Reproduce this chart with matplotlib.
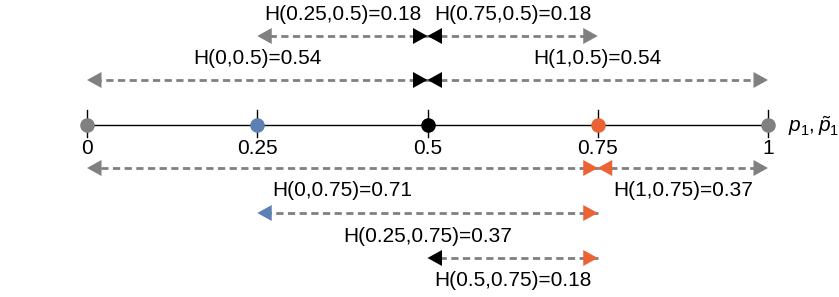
import matplotlib
matplotlib.use("Agg")
import matplotlib.pyplot as plt
from matplotlib.patches import Polygon

plt.rcParams['font.family'] = ['Liberation Sans', 'DejaVu Sans']
plt.rcParams['mathtext.fontset'] = 'custom'
plt.rcParams['mathtext.rm'] = 'Liberation Sans'
plt.rcParams['mathtext.it'] = 'Liberation Sans:italic'

# ---- data ----
points = [0, 0.25, 0.5, 0.75, 1]
point_labels = ["0", "0.25", "0.5", "0.75", "1"]
arrow_starts = [0.5, 0.5, 0.5, 0.5, 0.75, 0.75, 0.75, 0.75]
arrow_ends = [0.25, 0.75, 0, 1, 0, 1, 0.25, 0.5]
h_values = [0.18, 0.18, 0.54, 0.54, 0.71, 0.37, 0.37, 0.18]
arrow_rows = [0, 0, 1, 1, 2, 2, 3, 4]

# ---- style / layout ----
GRAY = '#808080'
BLUE = '#5E81B5'
BLACK = '#000000'
ORANGE = '#EB6235'
point_colors = {0: GRAY, 0.25: BLUE, 0.5: BLACK, 0.75: ORANGE, 1: GRAY}
head_colors = [GRAY, GRAY, GRAY, GRAY, GRAY, GRAY, BLUE, BLACK]
row_y = [36, 80, 168, 213, 258]
axis_y = 125
PX = 681.0          # pixels per unit on x
X0 = 87.0           # pixel position of x=0
FS = 15

fig = plt.figure(figsize=(8.39, 2.97), dpi=100)
ax = fig.add_axes([0, 0, 1, 1])
ax.set_xlim(-X0 / PX, (839 - X0) / PX)
ax.set_ylim(297, 0)
ax.axis('off')

head_len = 14.5 / PX
head_half = 8.0


def tri(tip_x, y, direction, color):
    # direction: -1 pointing left, +1 pointing right
    base_x = tip_x - direction * head_len
    poly = Polygon([(tip_x, y), (base_x, y - head_half), (base_x, y + head_half)],
                   closed=True, facecolor=color, edgecolor='none', zorder=4)
    ax.add_patch(poly)


def fmt(v):
    return ('%g' % v)


for s, e, h, r, hc in zip(arrow_starts, arrow_ends, h_values, arrow_rows, head_colors):
    y = row_y[r]
    d = 1 if e > s else -1
    ax.plot([s, e - d * head_len * 0.9], [y, y], color=GRAY, lw=2.0,
            linestyle=(0, (2.6, 1.6)), zorder=2, solid_capstyle='butt',
            dash_capstyle='butt')
    # head at end
    tri(e, y, d, hc)
    # reversed head at start, inside the segment, pointing toward start
    tri(s, y, -d, point_colors[s])
    off = -22 if s == 0.5 else 23
    ax.text((s + e) / 2, y + off, f"H({fmt(e)},{fmt(s)})={h:.2f}",
            ha='center', va='center', fontsize=FS, color='black')

# axis line
ax.plot([0, 1], [axis_y, axis_y], color='black', lw=1.0, zorder=1)
for p, lab in zip(points, point_labels):
    ax.plot([p, p], [axis_y - 15, axis_y + 12], color='black', lw=1.0, zorder=1)
    ax.plot([p], [axis_y], 'o', color=point_colors[p], markersize=10.5,
            markeredgewidth=0, zorder=3)
    ax.text(p, axis_y + 24, lab, ha='center', va='center', fontsize=FS)

ax.text((788 - X0) / PX, axis_y + 1, r'$p_1,\tilde{p}_1$', ha='left', va='center',
        fontsize=FS)

fig.savefig('out.png', dpi=100)
